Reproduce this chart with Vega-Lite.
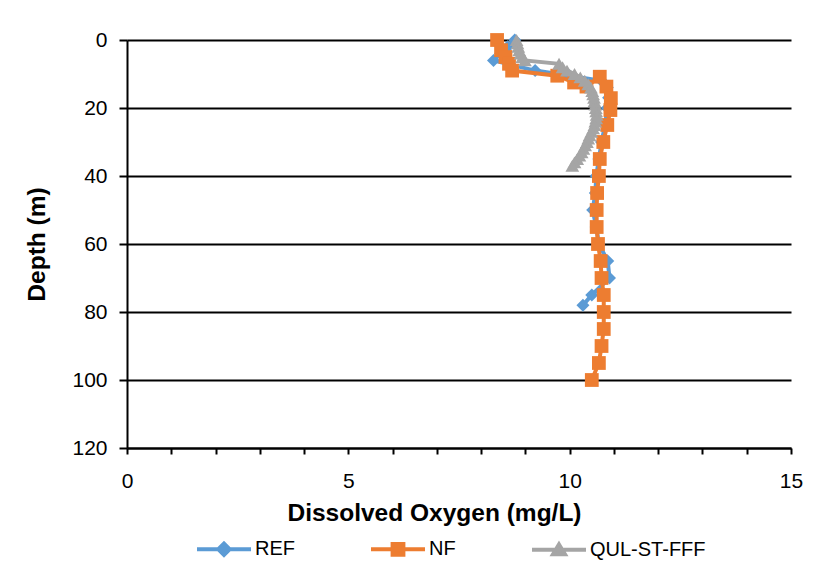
{
  "$schema": "https://vega.github.io/schema/vega-lite/v6.json",
  "width": 664,
  "height": 408,
  "autosize": {"type": "none"},
  "padding": {"left": 127, "top": 40, "right": 32, "bottom": 121},
  "background": "white",
  "config": {
    "font": "Liberation Sans",
    "view": {"stroke": null},
    "axis": {"labelFont": "Liberation Sans", "titleFont": "Liberation Sans", "labelColor": "black", "titleColor": "black", "domainColor": "black", "tickColor": "black"}
  },
  "data": {
    "values": [
      {"s": "REF", "i": 1, "depth": 0, "v": 8.76},
      {"s": "REF", "i": 2, "depth": 2, "v": 8.6},
      {"s": "REF", "i": 3, "depth": 4, "v": 8.44},
      {"s": "REF", "i": 4, "depth": 6, "v": 8.28},
      {"s": "REF", "i": 5, "depth": 9, "v": 9.22},
      {"s": "REF", "i": 6, "depth": 10.5, "v": 10.0},
      {"s": "REF", "i": 7, "depth": 12, "v": 10.72},
      {"s": "REF", "i": 8, "depth": 14, "v": 10.85},
      {"s": "REF", "i": 9, "depth": 17, "v": 10.88},
      {"s": "REF", "i": 10, "depth": 20, "v": 10.85},
      {"s": "REF", "i": 11, "depth": 25, "v": 10.8},
      {"s": "REF", "i": 12, "depth": 30, "v": 10.72},
      {"s": "REF", "i": 13, "depth": 35, "v": 10.66},
      {"s": "REF", "i": 14, "depth": 40, "v": 10.6},
      {"s": "REF", "i": 15, "depth": 45, "v": 10.58},
      {"s": "REF", "i": 16, "depth": 50, "v": 10.52},
      {"s": "REF", "i": 17, "depth": 55, "v": 10.6},
      {"s": "REF", "i": 18, "depth": 60, "v": 10.66},
      {"s": "REF", "i": 19, "depth": 65, "v": 10.86},
      {"s": "REF", "i": 20, "depth": 70, "v": 10.9},
      {"s": "REF", "i": 21, "depth": 75, "v": 10.5},
      {"s": "REF", "i": 22, "depth": 78, "v": 10.3},
      {"s": "NF", "i": 1, "depth": 0, "v": 8.36},
      {"s": "NF", "i": 2, "depth": 3, "v": 8.45},
      {"s": "NF", "i": 3, "depth": 5, "v": 8.55},
      {"s": "NF", "i": 4, "depth": 7, "v": 8.63},
      {"s": "NF", "i": 5, "depth": 9, "v": 8.7},
      {"s": "NF", "i": 6, "depth": 10.5, "v": 9.72},
      {"s": "NF", "i": 7, "depth": 12.5, "v": 10.1},
      {"s": "NF", "i": 8, "depth": 13.7, "v": 10.38},
      {"s": "NF", "i": 9, "depth": 10.8, "v": 10.68},
      {"s": "NF", "i": 10, "depth": 13.7, "v": 10.83},
      {"s": "NF", "i": 11, "depth": 17.1, "v": 10.93},
      {"s": "NF", "i": 12, "depth": 20.6, "v": 10.92},
      {"s": "NF", "i": 13, "depth": 25, "v": 10.85},
      {"s": "NF", "i": 14, "depth": 30, "v": 10.76},
      {"s": "NF", "i": 15, "depth": 35, "v": 10.68},
      {"s": "NF", "i": 16, "depth": 40, "v": 10.66},
      {"s": "NF", "i": 17, "depth": 45, "v": 10.62},
      {"s": "NF", "i": 18, "depth": 50, "v": 10.61},
      {"s": "NF", "i": 19, "depth": 55, "v": 10.61},
      {"s": "NF", "i": 20, "depth": 60, "v": 10.64},
      {"s": "NF", "i": 21, "depth": 65, "v": 10.7},
      {"s": "NF", "i": 22, "depth": 70, "v": 10.72},
      {"s": "NF", "i": 23, "depth": 75, "v": 10.77},
      {"s": "NF", "i": 24, "depth": 80, "v": 10.77},
      {"s": "NF", "i": 25, "depth": 85, "v": 10.77},
      {"s": "NF", "i": 26, "depth": 90, "v": 10.72},
      {"s": "NF", "i": 27, "depth": 95, "v": 10.66},
      {"s": "NF", "i": 28, "depth": 100, "v": 10.5},
      {"s": "QUL-ST-FFF", "i": 1, "depth": 0, "v": 8.8},
      {"s": "QUL-ST-FFF", "i": 2, "depth": 1, "v": 8.82},
      {"s": "QUL-ST-FFF", "i": 3, "depth": 2, "v": 8.84},
      {"s": "QUL-ST-FFF", "i": 4, "depth": 3, "v": 8.86},
      {"s": "QUL-ST-FFF", "i": 5, "depth": 4, "v": 8.89},
      {"s": "QUL-ST-FFF", "i": 6, "depth": 5, "v": 8.93},
      {"s": "QUL-ST-FFF", "i": 7, "depth": 6, "v": 8.99},
      {"s": "QUL-ST-FFF", "i": 8, "depth": 7, "v": 9.76},
      {"s": "QUL-ST-FFF", "i": 9, "depth": 8, "v": 9.84},
      {"s": "QUL-ST-FFF", "i": 10, "depth": 9, "v": 9.94},
      {"s": "QUL-ST-FFF", "i": 11, "depth": 10, "v": 10.11},
      {"s": "QUL-ST-FFF", "i": 12, "depth": 11, "v": 10.24},
      {"s": "QUL-ST-FFF", "i": 13, "depth": 12, "v": 10.34},
      {"s": "QUL-ST-FFF", "i": 14, "depth": 13, "v": 10.42},
      {"s": "QUL-ST-FFF", "i": 15, "depth": 14, "v": 10.48},
      {"s": "QUL-ST-FFF", "i": 16, "depth": 15, "v": 10.51},
      {"s": "QUL-ST-FFF", "i": 17, "depth": 16, "v": 10.53},
      {"s": "QUL-ST-FFF", "i": 18, "depth": 17, "v": 10.55},
      {"s": "QUL-ST-FFF", "i": 19, "depth": 18, "v": 10.56},
      {"s": "QUL-ST-FFF", "i": 20, "depth": 19, "v": 10.58},
      {"s": "QUL-ST-FFF", "i": 21, "depth": 20, "v": 10.59},
      {"s": "QUL-ST-FFF", "i": 22, "depth": 21, "v": 10.6},
      {"s": "QUL-ST-FFF", "i": 23, "depth": 22, "v": 10.61},
      {"s": "QUL-ST-FFF", "i": 24, "depth": 23, "v": 10.6},
      {"s": "QUL-ST-FFF", "i": 25, "depth": 24, "v": 10.58},
      {"s": "QUL-ST-FFF", "i": 26, "depth": 25, "v": 10.56},
      {"s": "QUL-ST-FFF", "i": 27, "depth": 26, "v": 10.53},
      {"s": "QUL-ST-FFF", "i": 28, "depth": 27, "v": 10.49},
      {"s": "QUL-ST-FFF", "i": 29, "depth": 28, "v": 10.45},
      {"s": "QUL-ST-FFF", "i": 30, "depth": 29, "v": 10.42},
      {"s": "QUL-ST-FFF", "i": 31, "depth": 30, "v": 10.39},
      {"s": "QUL-ST-FFF", "i": 32, "depth": 31, "v": 10.35},
      {"s": "QUL-ST-FFF", "i": 33, "depth": 32, "v": 10.31},
      {"s": "QUL-ST-FFF", "i": 34, "depth": 33, "v": 10.27},
      {"s": "QUL-ST-FFF", "i": 35, "depth": 34, "v": 10.22},
      {"s": "QUL-ST-FFF", "i": 36, "depth": 35, "v": 10.17},
      {"s": "QUL-ST-FFF", "i": 37, "depth": 36, "v": 10.11},
      {"s": "QUL-ST-FFF", "i": 38, "depth": 37, "v": 10.06}
    ]
  },
  "encoding": {
    "x": {
      "field": "v", "type": "quantitative",
      "scale": {"domain": [0, 15], "nice": false, "zero": false},
      "axis": {
        "title": "Dissolved Oxygen (mg/L)",
        "values": [0,1,2,3,4,5,6,7,8,9,10,11,12,13,14,15],
        "labelExpr": "datum.value % 5 === 0 ? datum.label : ''",
        "grid": false, "domainWidth": 2, "tickWidth": 2, "tickSize": 6,
        "labelFontSize": 21, "labelPadding": 16, "labelFlush": false, "labelOverlap": false,
        "titleFontSize": 24.5, "titleFontWeight": "bold", "titlePadding": 10,
        "titleX": 307, "titleAlign": "center"
      }
    },
    "y": {
      "field": "depth", "type": "quantitative",
      "scale": {"domain": [0, 120], "reverse": true, "nice": false},
      "axis": {
        "title": "Depth (m)",
        "values": [0,20,40,60,80,100,120],
        "grid": true, "gridColor": "black", "gridWidth": 2,
        "domainWidth": 2, "tickWidth": 2, "tickSize": 8,
        "labelFontSize": 21, "labelPadding": 12, "labelFlush": false,
        "titleFontSize": 24.5, "titleFontWeight": "bold", "titlePadding": 22
      }
    },
    "color": {
      "field": "s", "type": "nominal",
      "scale": {"domain": ["REF", "NF", "QUL-ST-FFF"], "range": ["#5B9BD5", "#ED7D31", "#A5A5A5"]},
      "legend": {
        "title": null, "orient": "none", "direction": "horizontal",
        "legendX": 68, "legendY": 480,
        "labelFontSize": 20, "labelFont": "Liberation Sans", "labelColor": "black",
        "symbolSize": 2916, "symbolStrokeWidth": 4, "symbolOffset": 0, "labelOffset": 2,
        "columnPadding": 68,
        "encode": {
          "symbols": {
            "update": {
              "shape": {"signal": "datum.value === 'REF' ? 'M-1,0L1,0M-0.21,0L0,-0.21L0.21,0L0,0.21Z' : datum.value === 'NF' ? 'M-1,0L1,0M-0.2,-0.2L0.2,-0.2L0.2,0.2L-0.2,0.2Z' : 'M-1,0L1,0M0,-0.2L0.22,0.16L-0.22,0.16Z'"},
              "fill": {"scale": "color", "field": "value"},
              "stroke": {"scale": "color", "field": "value"},
              "strokeWidth": {"value": 4},
              "opacity": {"value": 1}
            }
          }
        }
      }
    },
    "order": {"field": "i", "type": "quantitative"}
  },
  "layer": [
    {"transform": [{"filter": "datum.s === 'REF'"}], "mark": {"type": "line", "strokeWidth": 4}},
    {"transform": [{"filter": "datum.s === 'REF'"}], "mark": {"type": "point", "shape": "diamond", "filled": true, "opacity": 1, "size": 170}},
    {"transform": [{"filter": "datum.s === 'NF'"}], "mark": {"type": "line", "strokeWidth": 4}},
    {"transform": [{"filter": "datum.s === 'NF'"}], "mark": {"type": "point", "shape": "square", "filled": true, "opacity": 1, "size": 190}},
    {"transform": [{"filter": "datum.s === 'QUL-ST-FFF'"}], "mark": {"type": "line", "strokeWidth": 4}},
    {"transform": [{"filter": "datum.s === 'QUL-ST-FFF'"}], "mark": {"type": "point", "shape": "triangle-up", "filled": true, "opacity": 1, "size": 190}}
  ]
}
